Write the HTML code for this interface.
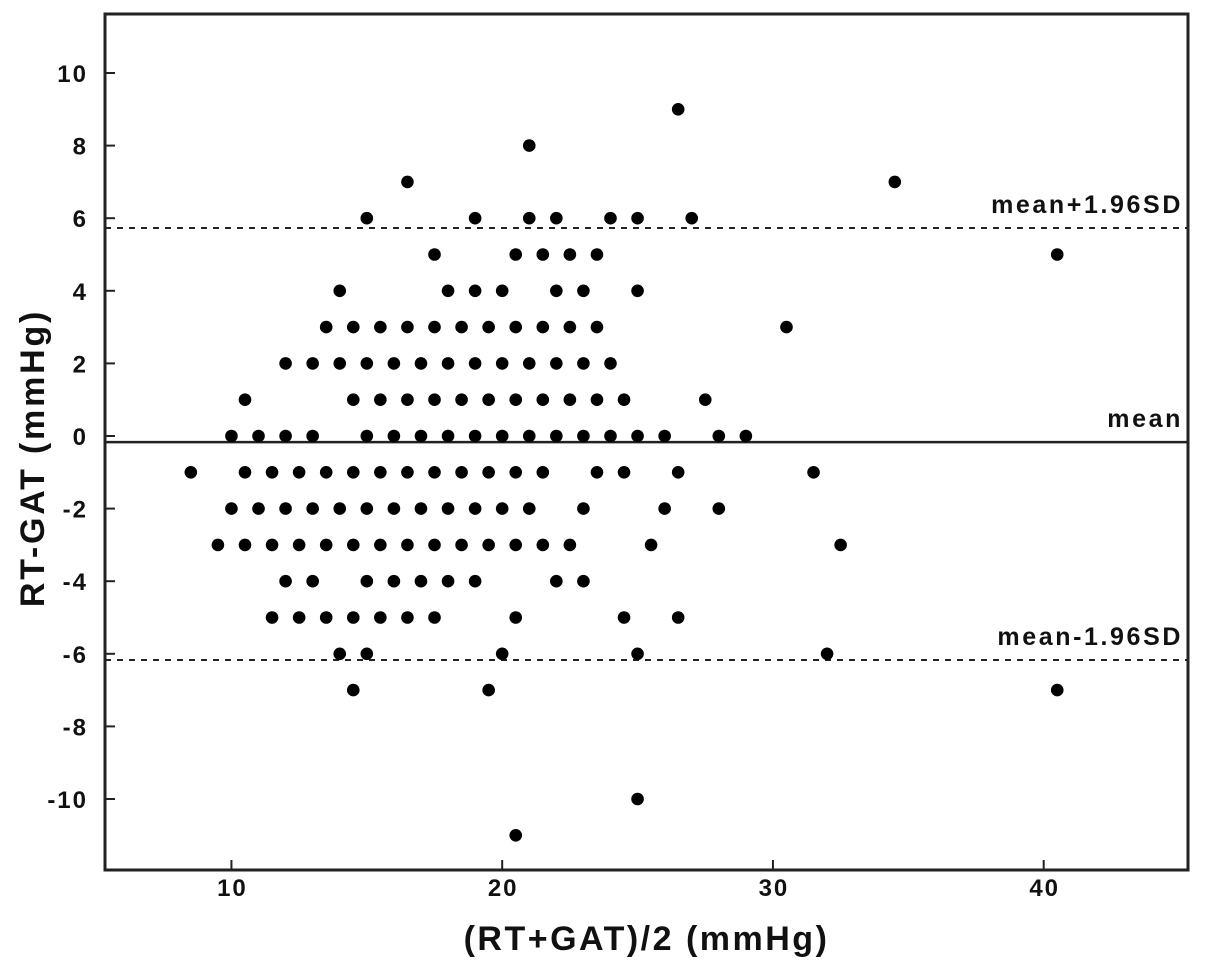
<!DOCTYPE html>
<html><head><meta charset="utf-8">
<style>
html,body{margin:0;padding:0;background:#fff;}
svg{display:block;font-family:"Liberation Sans",Arial,sans-serif;font-weight:bold;}
</style></head>
<body>
<svg id="chart" width="1205" height="969" viewBox="0 0 1205 969" xmlns="http://www.w3.org/2000/svg">
<g id="grid"></g>
</svg>
<script>
const pointX = [
26.5,
21,
16.5,34.5,
15,19,21,22,24,25,27,
17.5,20.5,21.5,22.5,23.5,40.5,
14,18,19,20,22,23,25,
13.5,14.5,15.5,16.5,17.5,18.5,19.5,20.5,21.5,22.5,23.5,30.5,
12,13,14,15,16,17,18,19,20,21,22,23,24,
10.5,14.5,15.5,16.5,17.5,18.5,19.5,20.5,21.5,22.5,23.5,24.5,27.5,
10,11,12,13,15,16,17,18,19,20,21,22,23,24,25,26,28,29,
8.5,10.5,11.5,12.5,13.5,14.5,15.5,16.5,17.5,18.5,19.5,20.5,21.5,23.5,24.5,26.5,31.5,
10,11,12,13,14,15,16,17,18,19,20,21,23,26,28,
9.5,10.5,11.5,12.5,13.5,14.5,15.5,16.5,17.5,18.5,19.5,20.5,21.5,22.5,25.5,32.5,
12,13,15,16,17,18,19,22,23,
11.5,12.5,13.5,14.5,15.5,16.5,17.5,20.5,24.5,26.5,
14,15,20,25,32,
14.5,19.5,40.5,
25,
20.5];
const pointY = [
9,
8,
7,7,
6,6,6,6,6,6,6,
5,5,5,5,5,5,
4,4,4,4,4,4,4,
3,3,3,3,3,3,3,3,3,3,3,3,
2,2,2,2,2,2,2,2,2,2,2,2,2,
1,1,1,1,1,1,1,1,1,1,1,1,1,
0,0,0,0,0,0,0,0,0,0,0,0,0,0,0,0,0,0,
-1,-1,-1,-1,-1,-1,-1,-1,-1,-1,-1,-1,-1,-1,-1,-1,-1,
-2,-2,-2,-2,-2,-2,-2,-2,-2,-2,-2,-2,-2,-2,-2,
-3,-3,-3,-3,-3,-3,-3,-3,-3,-3,-3,-3,-3,-3,-3,-3,
-4,-4,-4,-4,-4,-4,-4,-4,-4,
-5,-5,-5,-5,-5,-5,-5,-5,-5,-5,
-6,-6,-6,-6,-6,
-7,-7,-7,
-10,
-11];
const xTicks = [10,20,30,40];
const yTicks = [-10,-8,-6,-4,-2,0,2,4,6,8,10];
const meanDiff = -0.17;
const upperLoA = 5.73;
const lowerLoA = -6.17;
const refLabels = ["mean+1.96SD","mean","mean-1.96SD"];

const L=105,R=1188,T=14,B=870;
const xMin=5.33,xMax=45.33;
const sx=v=>L+(v-xMin)/(xMax-xMin)*(R-L);
const sy=v=>436-v*36.3;
const NS="http://www.w3.org/2000/svg";
const svg=document.getElementById('chart');
function mk(tag,attrs,parent){const e=document.createElementNS(NS,tag);for(const k in attrs)e.setAttribute(k,attrs[k]);(parent||svg).appendChild(e);return e;}

const frame=mk('rect',{x:L,y:T,width:R-L,height:B-T,fill:'none',stroke:'#222','stroke-width':3});



xTicks.forEach(v=>{
  const t=mk('line',{x1:sx(v),x2:sx(v),y1:B,y2:B-10,stroke:'#222','stroke-width':2});
  
  
  const l=mk('text',{x:sx(v)+1,y:896,'text-anchor':'middle','font-size':24,'letter-spacing':2,fill:'#111'});
  l.textContent=v;
  
  
});
yTicks.forEach(v=>{
  const t=mk('line',{x1:L,x2:L+10,y1:sy(v),y2:sy(v),stroke:'#222','stroke-width':2});
  
  
  const l=mk('text',{x:88,y:sy(v)+9,'text-anchor':'end','font-size':24,'letter-spacing':2,fill:'#111'});
  l.textContent=v;
  
  
});

const lines=[[upperLoA,'6,6',refLabels[0],'upper-limit-line'],[meanDiff,null,refLabels[1],'mean-line'],[lowerLoA,'6,6',refLabels[2],'lower-limit-line']];
lines.forEach(([v,dash,lab,name])=>{
  const a={x1:L,x2:R,y1:sy(v),y2:sy(v),stroke:'#222','stroke-width':dash?2:2.5};
  if(dash)a['stroke-dasharray']=dash;
  const ln=mk('line',a);
  
  
  const t=mk('text',{x:R-5,y:sy(v)-15,'text-anchor':'end','font-size':25,'letter-spacing':2.6,fill:'#111'});
  t.textContent=lab;
  
  
});

pointX.forEach((x,i)=>{
  const c=mk('circle',{cx:sx(x),cy:sy(pointY[i]),r:6.3,fill:'#000'});
  
  
});

const xt=mk('text',{x:(L+R)/2,y:950,'text-anchor':'middle','font-size':34,'letter-spacing':2.5,fill:'#111'});
xt.textContent='(RT+GAT)/2 (mmHg)';


const yt=mk('text',{x:0,y:0,'text-anchor':'middle','font-size':34,'letter-spacing':2.8,fill:'#111',transform:`translate(44,458) rotate(-90)`});
yt.textContent='RT-GAT (mmHg)';


</script>
</body></html>
